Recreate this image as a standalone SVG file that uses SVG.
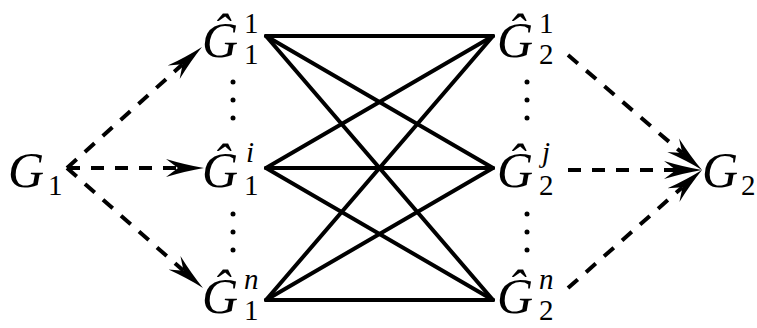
<svg xmlns="http://www.w3.org/2000/svg" width="757" height="328" viewBox="0 0 757 328">
<style>
.G{font-family:"Liberation Serif",serif;font-style:italic;font-size:50px;fill:#000}
.s{font-family:"Liberation Serif",serif;font-size:29px;fill:#000}
.si{font-family:"Liberation Serif",serif;font-style:italic;font-size:29px;fill:#000}
.solid{stroke:#000;stroke-width:4;fill:none;stroke-linecap:round}
.dash{stroke:#000;stroke-width:4;fill:none;stroke-dasharray:13 11;marker-end:url(#head)}
.dot{fill:#000}
</style>
<defs>
<marker id="head" markerUnits="userSpaceOnUse" markerWidth="44" markerHeight="26" refX="12" refY="13" orient="auto">
<path d="M0,4 Q20,10 38,13 Q20,16 0,22 L12,13 Z" fill="#000"/>
</marker>
</defs>
<g id="G1"><text class="G" font-family="Liberation Serif" x="8" y="187">G</text><text class="s" font-family="Liberation Serif" x="48" y="195">1</text></g>
<g id="G1_1"><text class="G" font-family="Liberation Serif" x="202" y="57">Ĝ</text><text class="s" font-family="Liberation Serif" x="244" y="33">1</text><text class="s" font-family="Liberation Serif" x="244" y="64">1</text></g>
<g id="G1_i"><text class="G" font-family="Liberation Serif" x="202" y="187">Ĝ</text><text class="si" font-family="Liberation Serif" x="246" y="162">i</text><text class="s" font-family="Liberation Serif" x="244" y="195">1</text></g>
<g id="G1_n"><text class="G" font-family="Liberation Serif" x="202" y="313">Ĝ</text><text class="si" font-family="Liberation Serif" x="244" y="289">n</text><text class="s" font-family="Liberation Serif" x="244" y="320">1</text></g>
<g id="G2_1"><text class="G" font-family="Liberation Serif" x="497" y="57">Ĝ</text><text class="s" font-family="Liberation Serif" x="539" y="33">1</text><text class="s" font-family="Liberation Serif" x="539" y="64">2</text></g>
<g id="G2_j"><text class="G" font-family="Liberation Serif" x="497" y="187">Ĝ</text><text class="si" font-family="Liberation Serif" x="542" y="162">j</text><text class="s" font-family="Liberation Serif" x="539" y="195">2</text></g>
<g id="G2_n"><text class="G" font-family="Liberation Serif" x="497" y="313">Ĝ</text><text class="si" font-family="Liberation Serif" x="539" y="289">n</text><text class="s" font-family="Liberation Serif" x="539" y="320">2</text></g>
<g id="G2"><text class="G" font-family="Liberation Serif" x="702" y="187">G</text><text class="s" font-family="Liberation Serif" x="741" y="195">2</text></g>
<g id="dots">
<circle class="dot" cx="233" cy="82" r="2.5"/><circle class="dot" cx="233" cy="100" r="2.5"/><circle class="dot" cx="233" cy="118" r="2.5"/>
<circle class="dot" cx="233" cy="214" r="2.5"/><circle class="dot" cx="233" cy="232" r="2.5"/><circle class="dot" cx="233" cy="250" r="2.5"/>
<circle class="dot" cx="527" cy="82" r="2.5"/><circle class="dot" cx="527" cy="100" r="2.5"/><circle class="dot" cx="527" cy="118" r="2.5"/>
<circle class="dot" cx="527" cy="214" r="2.5"/><circle class="dot" cx="527" cy="232" r="2.5"/><circle class="dot" cx="527" cy="250" r="2.5"/>
</g>
<g id="connectors">
<line class="solid" x1="266" y1="36" x2="493" y2="36"/>
<line class="solid" x1="266" y1="36" x2="493" y2="168"/>
<line class="solid" x1="266" y1="36" x2="493" y2="300"/>
<line class="solid" x1="266" y1="168" x2="493" y2="36"/>
<line class="solid" x1="266" y1="168" x2="493" y2="168"/>
<line class="solid" x1="266" y1="168" x2="493" y2="300"/>
<line class="solid" x1="266" y1="300" x2="493" y2="36"/>
<line class="solid" x1="266" y1="300" x2="493" y2="168"/>
<line class="solid" x1="266" y1="300" x2="493" y2="300"/>
<line class="dash" x1="67" y1="168" x2="182.6" y2="64.3"/>
<line class="dash" x1="67" y1="168" x2="178" y2="168"/>
<line class="dash" x1="67" y1="168" x2="183.5" y2="270.8"/>
<line class="dash" x1="568" y1="55" x2="682.3" y2="153.1"/>
<line class="dash" x1="568" y1="170" x2="676" y2="170"/>
<line class="dash" x1="568" y1="288" x2="682.5" y2="187.2"/>
</g>
</svg>
